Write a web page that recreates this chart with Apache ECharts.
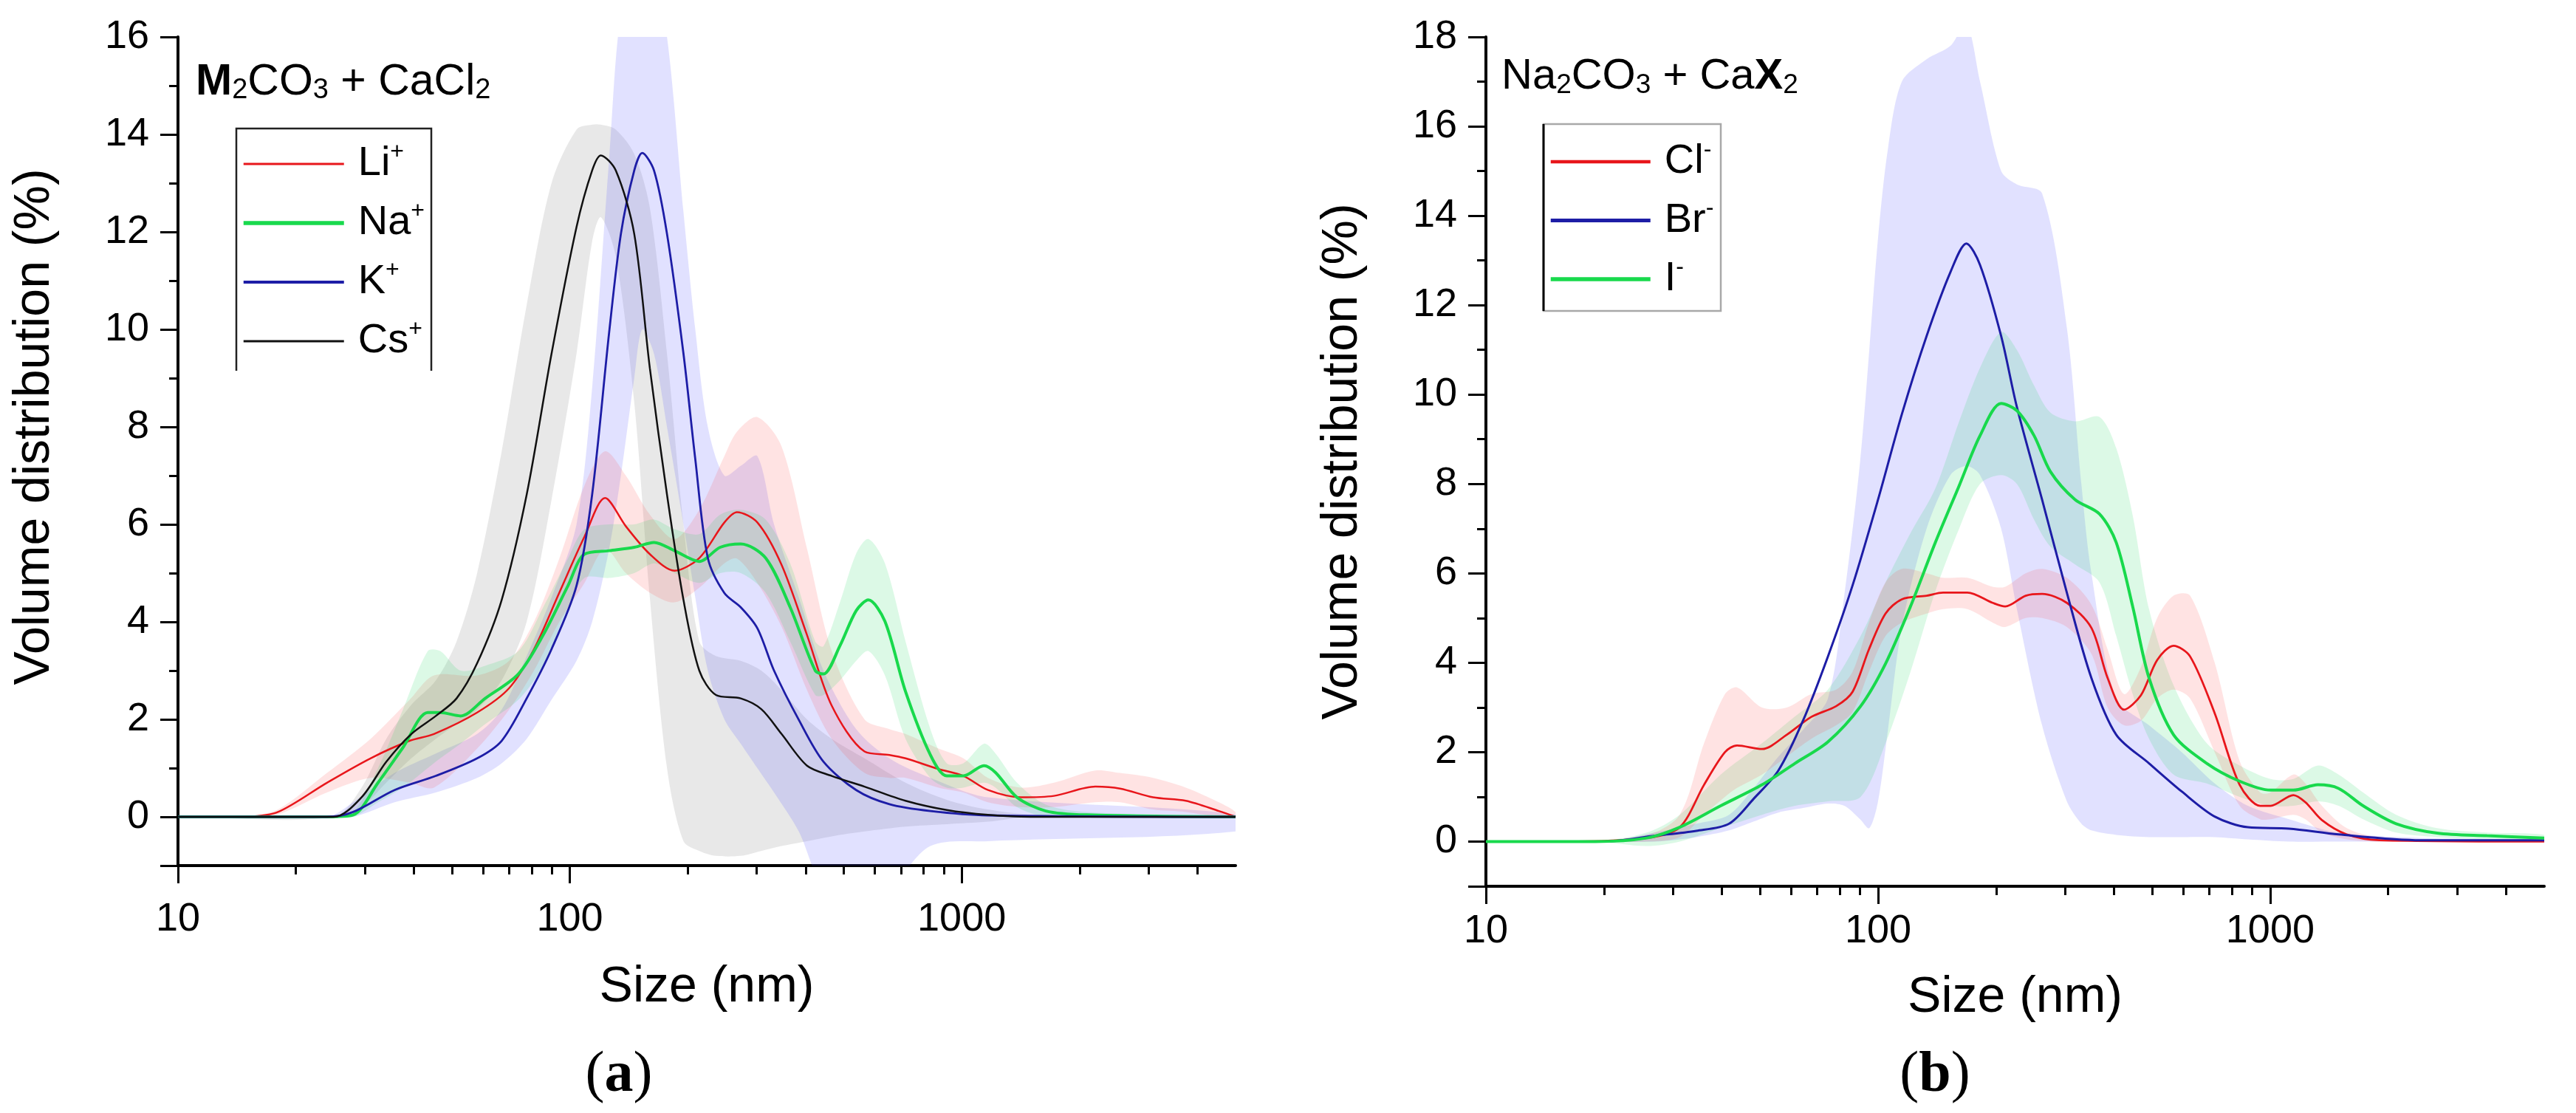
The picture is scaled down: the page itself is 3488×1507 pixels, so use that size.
<!DOCTYPE html>
<html>
<head>
<meta charset="utf-8">
<title>Volume distribution</title>
<script src="https://cdn.jsdelivr.net/npm/echarts@6.0.0/dist/echarts.min.js"></script>
<style>
html, body { margin: 0; padding: 0; background: #fff; }
#chart { width: 3488px; height: 1507px; }
</style>
</head>
<body>
<div id="chart"></div>
<script>
var dom = document.getElementById('chart');
var myChart = echarts.init(dom);

// ticks
var xMajor = [10, 100, 1000];
var xMinor = [20, 30, 40, 50, 60, 70, 80, 90, 200, 300, 400, 500, 600, 700, 800, 900, 2000, 3000, 4000];
var yTicksA = [0, 2, 4, 6, 8, 10, 12, 14, 16];
var yMinorA = [1, 3, 5, 7, 9, 11, 13, 15];
var yTicksB = [0, 2, 4, 6, 8, 10, 12, 14, 16, 18];
var yMinorB = [1, 3, 5, 7, 9, 11, 13, 15, 17];

// (a) M2CO3 + CaCl2
var sizeLi = [15, 18, 24, 31, 39, 45, 58, 70, 81, 94, 109, 123, 139, 160, 185, 214, 248, 267, 301, 347, 403, 466, 565, 654, 719, 873, 1010, 1167, 1416, 1720, 2193, 2535, 3078, 3733, 4533, 5000];
var li   = [0, 0.1, 0.7, 1.2, 1.56, 1.7, 2.14, 2.64, 3.44, 4.6, 5.75, 6.54, 5.96, 5.39, 5.05, 5.31, 6.04, 6.25, 6.04, 5.17, 3.73, 2.28, 1.34, 1.27, 1.2, 0.98, 0.84, 0.55, 0.4, 0.43, 0.62, 0.58, 0.4, 0.33, 0.12, 0];
var liLo = [0, 0.05, 0.5, 0.8, 0.7, 0.6, 1.4, 2.2, 3.0, 4.0, 4.8, 5.5, 5.0, 4.6, 4.4, 4.7, 5.2, 5.3, 4.8, 3.9, 2.6, 1.6, 0.9, 0.8, 0.8, 0.6, 0.5, 0.3, 0.2, 0.2, 0.3, 0.3, 0.15, 0.1, 0, 0];
var liHi = [0, 0.15, 0.9, 1.6, 2.4, 2.9, 2.9, 3.2, 4.0, 5.3, 6.8, 7.5, 7.0, 6.2, 5.7, 6.3, 7.4, 7.9, 8.2, 7.6, 5.5, 3.4, 2.0, 1.8, 1.7, 1.4, 1.2, 0.8, 0.6, 0.7, 0.95, 0.9, 0.8, 0.6, 0.3, 0.1];

var sizeNa = [10, 24, 28, 32.4, 37.5, 43.4, 46.7, 52.6, 60.8, 73.9, 85.5, 98.9, 109, 126, 146, 164, 185, 214, 242, 273, 316, 365, 423, 444, 489, 538, 578, 637, 719, 832, 916, 1010, 1140, 1220, 1384, 1640, 2080, 5000];
var na   = [0, 0, 0.04, 0.7, 1.42, 2.14, 2.14, 2.07, 2.43, 2.93, 3.73, 4.74, 5.39, 5.46, 5.53, 5.63, 5.46, 5.24, 5.53, 5.6, 5.31, 4.3, 3.0, 2.93, 3.51, 4.23, 4.45, 4.01, 2.57, 1.27, 0.84, 0.84, 1.05, 0.91, 0.4, 0.12, 0.04, 0];
var naLo = [0, 0, 0, 0.3, 0.6, 1.0, 1.2, 1.5, 1.9, 2.4, 3.1, 4.3, 4.9, 4.9, 5.0, 5.2, 5.0, 4.8, 5.0, 5.0, 4.6, 3.6, 2.5, 2.5, 2.8, 3.2, 3.4, 2.9, 1.6, 0.8, 0.6, 0.6, 0.7, 0.6, 0.2, 0, 0, 0];
var naHi = [0, 0, 0.1, 1.0, 2.2, 3.4, 3.4, 3.0, 3.1, 3.4, 4.3, 5.3, 5.9, 6.0, 6.0, 6.1, 5.9, 5.8, 6.2, 6.3, 6.1, 5.2, 3.6, 3.5, 4.4, 5.4, 5.7, 5.2, 3.6, 1.8, 1.1, 1.1, 1.5, 1.3, 0.7, 0.25, 0.1, 0];

var sizeK = [10, 24, 28, 35.7, 45.5, 58, 67, 77.6, 89.8, 104, 114, 126, 135, 146, 153, 164, 177, 195, 209, 225, 248, 273, 301, 332, 384, 444, 538, 654, 832, 1167, 5000];
var k   = [0, 0, 0.1, 0.55, 0.84, 1.2, 1.56, 2.43, 3.44, 4.74, 6.61, 9.94, 11.96, 13.26, 13.62, 13.26, 11.96, 9.5, 7.34, 5.31, 4.59, 4.3, 3.87, 3.0, 1.99, 1.13, 0.55, 0.26, 0.12, 0.03, 0];
var kLo = [0, 0, 0, 0.3, 0.5, 0.8, 1.1, 1.6, 2.4, 3.2, 4.0, 5.5, 7.0, 9.0, 10, 9.5, 8, 6, 4.5, 3.0, 2.0, 1.5, 1.0, 0.5, -0.3, -1.5, -2.0, -1.5, -0.6, -0.5, -0.3];
var kHi = [0, 0, 0.3, 0.9, 1.3, 1.7, 2.2, 3.3, 4.5, 6.0, 8.8, 13.5, 16.5, 17, 17, 17, 16, 12.4, 10, 8.0, 7.0, 7.2, 7.4, 6.0, 4.5, 3.0, 1.8, 1.2, 0.8, 0.4, 0.05];

var sizeCs = [10, 25, 29.4, 34, 39.4, 45.5, 51.4, 58, 67, 77.6, 89.8, 104, 114, 120, 131, 146, 160, 177, 195, 214, 236, 273, 308, 347, 403, 466, 565, 719, 916, 1167, 1500, 5000];
var cs   = [0, 0, 0.4, 1.13, 1.7, 2.07, 2.43, 3.15, 4.45, 6.61, 9.5, 12.1, 13.26, 13.57, 13.26, 11.96, 9.21, 6.61, 4.45, 3.0, 2.5, 2.43, 2.21, 1.7, 1.05, 0.84, 0.62, 0.33, 0.14, 0.04, 0, 0];
var csLo = [0, 0, 0.2, 0.7, 1.2, 1.6, 1.9, 2.2, 2.8, 4.0, 6.5, 9.5, 11.8, 12.3, 11.5, 8.5, 4.5, 1.0, -0.5, -0.7, -0.8, -0.8, -0.7, -0.6, -0.5, -0.4, -0.3, -0.2, -0.15, -0.1, 0, 0];
var csHi = [0, 0, 0.6, 1.6, 2.3, 2.8, 3.6, 5.0, 7.5, 10.5, 13.0, 14.1, 14.2, 14.2, 14.1, 13.6, 12.5, 9.5, 6.0, 3.6, 3.3, 3.2, 3.0, 2.6, 2.0, 1.6, 1.2, 0.7, 0.35, 0.15, 0.05, 0];

// (b) Na2CO3 + CaX2
var sizeCl = [10, 15.9, 25.7, 31.2, 36, 40.7, 43.7, 50.6, 58.5, 67.6, 78.2, 86.1, 94.8, 104.5, 115, 133, 146.5, 169, 196, 211, 238, 262, 303, 350, 385, 424, 468, 515, 567, 625, 722, 836, 943, 1002, 1146, 1230, 1355, 1567, 1900, 5000];
var cl   = [0, 0, 0.08, 0.32, 1.27, 2.0, 2.15, 2.07, 2.39, 2.79, 3.03, 3.35, 4.3, 5.1, 5.42, 5.5, 5.57, 5.57, 5.34, 5.26, 5.5, 5.54, 5.34, 4.78, 3.66, 2.95, 3.27, 4.06, 4.38, 4.14, 2.87, 1.27, 0.8, 0.8, 1.04, 0.88, 0.48, 0.16, 0.03, 0];
var clLo = [0, 0, 0, 0.1, 0.6, 1.0, 1.2, 1.5, 1.9, 2.3, 2.6, 2.9, 3.8, 4.6, 4.9, 5.1, 5.2, 5.2, 4.9, 4.8, 5.0, 5.0, 4.8, 4.2, 3.0, 2.6, 2.7, 3.2, 3.4, 3.2, 2.0, 0.8, 0.5, 0.5, 0.6, 0.5, 0.2, 0.05, 0, 0];
var clHi = [0, 0, 0.15, 0.6, 2.2, 3.3, 3.45, 3.0, 3.0, 3.3, 3.4, 3.8, 4.9, 5.8, 6.1, 6.0, 5.9, 5.9, 5.7, 5.7, 6.0, 6.1, 5.9, 5.3, 4.3, 3.3, 3.9, 5.0, 5.5, 5.5, 4.0, 1.8, 1.1, 1.1, 1.5, 1.3, 0.8, 0.3, 0.1, 0];

var sizeBr = [10, 20, 27, 34.4, 41.7, 48.2, 55.7, 64.4, 74.5, 86.1, 100, 115, 133, 153, 168, 182, 206, 226, 262, 303, 350, 405, 491, 595, 722, 877, 1117, 1494, 2420, 5000];
var br     = [0, 0, 0.13, 0.24, 0.4, 0.96, 1.59, 2.71, 4.14, 5.73, 7.65, 9.56, 11.31, 12.74, 13.38, 12.9, 11.31, 9.72, 7.65, 5.57, 3.66, 2.39, 1.75, 1.12, 0.56, 0.32, 0.29, 0.16, 0.03, 0.03];
var sizeBrBand = [10, 20, 27, 34.4, 41.7, 48.2, 55.7, 64.4, 74.5, 82, 90, 95, 100, 106, 115, 133, 153, 168, 182, 206, 226, 262, 303, 330, 350, 405, 491, 595, 722, 877, 1117, 1494, 2420, 5000];
var brLo = [0, 0, 0, 0.1, 0.25, 0.45, 0.65, 0.75, 0.85, 0.8, 0.5, 0.3, 0.9, 2.5, 4.8, 7.0, 8.2, 8.4, 8.2, 7.0, 5.2, 2.6, 0.9, 0.4, 0.25, 0.15, 0.1, 0.1, 0.1, 0.05, 0, 0, 0, 0];
var brHi = [0, 0, 0.2, 0.4, 0.6, 1.2, 1.9, 2.5, 3.2, 5.5, 8.5, 11.0, 13.5, 15.5, 17.0, 17.5, 17.8, 18.3, 17.0, 15.0, 14.7, 14.5, 11.5, 8.0, 6.0, 3.2, 2.6, 2.0, 1.3, 0.8, 0.5, 0.2, 0.08, 0.05];

var sizeI = [10, 19, 25.7, 31.2, 39.7, 50.6, 61.4, 74.5, 90.3, 104.5, 121, 140, 161, 182, 206, 226, 250, 275, 318, 367, 405, 446, 491, 567, 689, 836, 1002, 1146, 1324, 1494, 1726, 2095, 2666, 3570, 5000];
var iv  = [0, 0, 0.08, 0.32, 0.8, 1.27, 1.75, 2.23, 3.03, 3.98, 5.26, 6.69, 7.96, 9.08, 9.8, 9.64, 9.08, 8.28, 7.65, 7.33, 6.69, 5.26, 3.66, 2.39, 1.75, 1.35, 1.15, 1.15, 1.27, 1.19, 0.8, 0.4, 0.19, 0.13, 0.08];
var iLo = [0, 0, -0.1, 0, 0.3, 0.6, 0.8, 0.9, 1.0, 2.2, 3.8, 5.6, 7.0, 8.0, 8.2, 8.0, 7.2, 6.6, 6.2, 5.8, 4.6, 3.3, 2.3, 1.5, 1.3, 1.0, 0.8, 0.8, 0.9, 0.8, 0.5, 0.2, 0.1, 0.05, 0];
var iHi = [0, 0, 0.2, 0.6, 1.5, 2.2, 2.8, 3.4, 4.6, 5.8, 6.9, 7.9, 9.4, 10.6, 11.4, 11.0, 10.2, 9.6, 9.4, 9.5, 8.8, 7.3, 5.2, 3.5, 2.2, 1.7, 1.4, 1.4, 1.7, 1.5, 1.1, 0.6, 0.3, 0.2, 0.15];

var FONT = 'Liberation Sans';
var SERIF = 'Liberation Serif';
var RED = '#e8161b', GREEN = '#18d94c', BLUE = '#1d1da6', BLACK = '#111111';

function pairs(xs, ys) {
    return xs.map(function (x, i) { return [x, ys[i]]; });
}

// shaded range between lower and upper edge, drawn as one smoothed polygon
function band(xs, lo, hi, color, ax) {
    return {
        type: 'custom', xAxisIndex: ax, yAxisIndex: ax, clip: true, silent: true, z: 1,
        data: xs.map(function (x, i) { return [x, lo[i], hi[i]]; }),
        encode: {x: 0, y: [1, 2]},
        renderItem: function (params, api) {
            if (params.dataIndex !== 0) return null;
            var top = xs.map(function (x, i) { return api.coord([x, hi[i]]); });
            var bottom = xs.map(function (x, i) { return api.coord([x, lo[i]]); }).reverse();
            return {
                type: 'polygon',
                shape: {points: top.concat(bottom), smooth: 0.3},
                style: {fill: color}
            };
        }
    };
}

function curve(name, xs, ys, color, width, ax) {
    return {
        type: 'line', name: name, xAxisIndex: ax, yAxisIndex: ax, data: pairs(xs, ys),
        smooth: 0.3, symbol: 'none', z: 3,
        lineStyle: {color: color, width: width}, itemStyle: {color: color}
    };
}

function sizeAxis(grid, gap, margin) {
    return {
        type: 'log', logBase: 10, gridIndex: grid, min: 10, max: 5000, position: 'bottom',
        name: 'Size (nm)', nameLocation: 'middle', nameGap: gap,
        nameTextStyle: {fontSize: 68, color: '#000', fontFamily: FONT},
        axisLine: {show: true, onZero: false, lineStyle: {color: '#000', width: 4}},
        axisTick: {show: true, inside: false, length: 24, customValues: xMajor, lineStyle: {color: '#000', width: 3}},
        axisLabel: {
            customValues: xMajor, margin: margin, fontSize: 54, color: '#000', fontFamily: FONT,
            formatter: function (v) { return String(Math.round(v)); }
        },
        splitLine: {show: false}
    };
}

function sizeMinor(grid) {
    return {
        type: 'log', logBase: 10, gridIndex: grid, min: 10, max: 5000, position: 'bottom',
        axisLine: {show: false, onZero: false},
        axisTick: {show: true, inside: false, length: 12, customValues: xMinor, lineStyle: {color: '#000', width: 3}},
        axisLabel: {show: false},
        splitLine: {show: false}
    };
}

function volAxis(grid, max, ticks, pad) {
    return {
        type: 'value', gridIndex: grid, min: -1, max: max, position: 'left',
        name: 'Volume distribution (%)', nameLocation: 'middle', nameGap: 160,
        nameTextStyle: {fontSize: 68, color: '#000', fontFamily: FONT, padding: pad},
        axisLine: {show: true, onZero: false, lineStyle: {color: '#000', width: 4}},
        axisTick: {show: true, inside: false, length: 24, customValues: [-1].concat(ticks), lineStyle: {color: '#000', width: 3}},
        axisLabel: {customValues: ticks, margin: 39, fontSize: 54, color: '#000', fontFamily: FONT},
        splitLine: {show: false}
    };
}

function volMinor(grid, max, minor) {
    return {
        type: 'value', gridIndex: grid, min: -1, max: max, position: 'left',
        axisLine: {show: false, onZero: false},
        axisTick: {show: true, inside: false, length: 12, customValues: minor, lineStyle: {color: '#000', width: 3}},
        axisLabel: {show: false},
        splitLine: {show: false}
    };
}

var legendRich = {
    n: {fontSize: 56, lineHeight: 64, color: '#000', fontFamily: FONT, padding: [0, 0, 0, 14]},
    s: {fontSize: 32, lineHeight: 36, color: '#000', fontFamily: FONT, verticalAlign: 'top'}
};

function legendFor(names, widths, left, top, gap, width) {
    return {
        data: names.map(function (n, i) { return {name: n, lineStyle: {width: widths[i]}}; }),
        orient: 'vertical', left: left, top: top, padding: 0,
        itemWidth: width, itemHeight: 2, itemGap: gap, selectedMode: false,
        itemStyle: {opacity: 0},
        formatter: function (n) { return '{n|' + n.slice(0, -1) + '}{s|' + n.slice(-1) + '}'; },
        textStyle: {fontSize: 56, fontFamily: FONT, color: '#000', rich: legendRich}
    };
}

function formula(parts, size, sub) {
    var rich = {
        t: {fontSize: size, lineHeight: 60, color: '#3c3c3c', fontFamily: FONT},
        h: {fontSize: size, lineHeight: 60, color: '#8b0a0a', fontWeight: 'bold', fontFamily: FONT},
        r: {fontSize: size, lineHeight: 60, color: '#c4161c', fontWeight: 'bold', fontFamily: FONT},
        s: {fontSize: sub, lineHeight: 10, color: '#3c3c3c', fontFamily: FONT, verticalAlign: 'bottom'}
    };
    return {text: parts, rich: rich};
}

var series = [
    band(sizeCs, csLo, csHi, 'rgba(0,0,0,0.09)', 0),
    band(sizeK, kLo, kHi, 'rgba(80,80,255,0.17)', 0),
    band(sizeLi, liLo, liHi, 'rgba(255,70,70,0.15)', 0),
    band(sizeNa, naLo, naHi, 'rgba(40,220,100,0.16)', 0),
    curve('Li+', sizeLi, li, RED, 2.5, 0),
    curve('Na+', sizeNa, na, GREEN, 4, 0),
    curve('K+', sizeK, k, BLUE, 2.8, 0),
    curve('Cs+', sizeCs, cs, BLACK, 2.5, 0),
    band(sizeBrBand, brLo, brHi, 'rgba(80,80,255,0.17)', 2),
    band(sizeI, iLo, iHi, 'rgba(40,220,100,0.16)', 2),
    band(sizeCl, clLo, clHi, 'rgba(255,70,70,0.15)', 2),
    curve('Cl-', sizeCl, cl, RED, 2.8, 2),
    curve('Br-', sizeBr, br, BLUE, 3, 2),
    curve('I-', sizeI, iv, GREEN, 4, 2)
];

option = {
    backgroundColor: '#ffffff',
    animation: false,
    grid: [
        {left: 241, top: 50, width: 1432, height: 1122, outerBoundsMode: 'none'},
        {left: 2012, top: 50, width: 1433, height: 1150, outerBoundsMode: 'none'}
    ],
    xAxis: [sizeAxis(0, 131, 46), sizeMinor(0), sizeAxis(1, 117, 34), sizeMinor(1)],
    yAxis: [
        volAxis(0, 16, yTicksA, [0, 0, 0, 66]), volMinor(0, 16, yMinorA),
        volAxis(1, 18, yTicksB, 0), volMinor(1, 18, yMinorB)
    ],
    legend: [
        legendFor(['Li+', 'Na+', 'K+', 'Cs+'], [3, 5.5, 4, 3], 327, 190, 20, 136),
        legendFor(['Cl-', 'Br-', 'I-'], [4.5, 5, 5.5], 2097, 187, 19.5, 135)
    ],
    graphic: [
        {type: 'polyline', shape: {points: [[320, 502], [320, 174], [584, 174], [584, 502]]},
         style: {stroke: '#222', lineWidth: 2.5, fill: null}},
        {type: 'rect', shape: {x: 2090, y: 168, width: 240, height: 253},
         style: {stroke: '#a8a8a8', lineWidth: 2.5, fill: null}},
        {type: 'line', shape: {x1: 2090, y1: 168, x2: 2090, y2: 421},
         style: {stroke: '#000', lineWidth: 3}},
        {type: 'text', left: 265, top: 82,
         style: formula('{h|M}{s|2}{t|CO}{s|3}{t| + CaCl}{s|2}', 59, 38)},
        {type: 'text', left: 2033, top: 75,
         style: formula('{t|Na}{s|2}{t|CO}{s|3}{t| + Ca}{r|X}{s|2}', 58, 37)},
        {type: 'text', x: 838, y: 1457,
         style: {text: '{p|(}{b|a}{p|)}', align: 'center', verticalAlign: 'middle',
                 rich: {p: {fontSize: 78, fontFamily: SERIF, color: '#000'},
                        b: {fontSize: 78, fontFamily: SERIF, color: '#000', fontWeight: 'bold'}}}},
        {type: 'text', x: 2620, y: 1457,
         style: {text: '{p|(}{b|b}{p|)}', align: 'center', verticalAlign: 'middle',
                 rich: {p: {fontSize: 78, fontFamily: SERIF, color: '#000'},
                        b: {fontSize: 78, fontFamily: SERIF, color: '#000', fontWeight: 'bold'}}}}
    ],
    series: series
};

if (option && typeof option === 'object') {
    myChart.setOption(option, true);
}
</script>
</body>
</html>
